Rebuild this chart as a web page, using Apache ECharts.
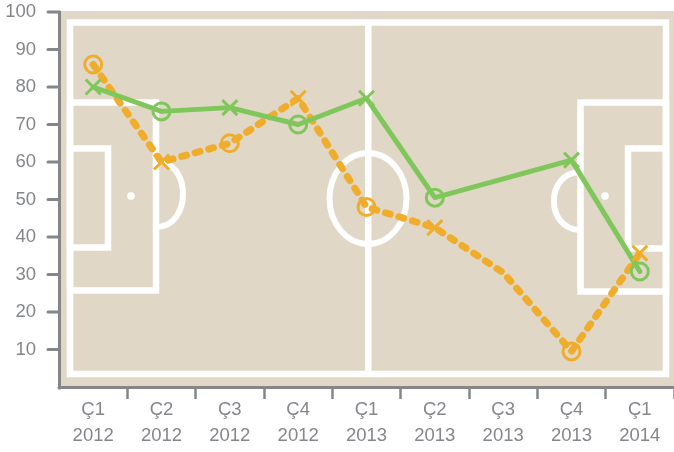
<!DOCTYPE html>
<html><head><meta charset="utf-8">
<style>html,body{margin:0;padding:0;background:#fff}#c{width:674px;height:452px}</style>
<script src="https://cdn.jsdelivr.net/npm/echarts@6/dist/echarts.min.js"></script>
</head><body><div id="c"></div>
<script>
const categories = ['Ç1\n2012','Ç2\n2012','Ç3\n2012','Ç4\n2012','Ç1\n2013','Ç2\n2013','Ç3\n2013','Ç4\n2013','Ç1\n2014'];
const orangeValues = [86, 60, 65, 77, 48, 42.5, 30.5, 9.5, 35.7];
const greenValues = [80, 73.5, 74.5, 70, 77, 50.5, 55.5, 60.5, 30.8];
const orangeMarkers = ['o','x','o','x','o','x','-','o','x'];
const greenMarkers = ['x','o','x','o','x','o','-','x','o'];
const yTicks = [10,20,30,40,50,60,70,80,90,100];

const GREY = '#84868a', GREEN = '#7fc75a', ORANGE = '#efad2b', PITCH = '#e0d7c6', W = '#ffffff';
const crossPath = 'path://M0 0L10 10M10 0L0 10';
function points(values, markers, color) {
  return values.map((v, i) => {
    const m = markers[i];
    if (m === '-') return {value: v, symbol: 'none'};
    return {
      value: v,
      symbol: m === 'o' ? 'circle' : crossPath,
      symbolSize: m === 'o' ? 17 : 15,
      itemStyle: {color: m === 'o' ? 'rgba(0,0,0,0)' : color, borderColor: color, borderWidth: 3, opacity: 1}
    };
  });
}
const rect = (x, y, w, h, fill, z) => ({type: 'rect', silent: true, z: z === undefined ? -10 : z, shape: {x, y, width: w, height: h}, style: {fill}});
const box = (x, y, w, h) => ({type: 'rect', silent: true, z: -9, shape: {x, y, width: w, height: h}, style: {fill: 'none', stroke: W, lineWidth: 6.5}});
const bez = (x1, y1, x2, y2, cx) => ({type: 'bezierCurve', silent: true, z: -9,
  shape: {x1, y1, x2, y2, cpx1: cx, cpy1: y1, cpx2: cx, cpy2: y2}, style: {fill: 'none', stroke: W, lineWidth: 6}});
const dot = (cx, cy) => ({type: 'circle', silent: true, z: -9, shape: {cx, cy, r: 3.8}, style: {fill: W}});
const pitch = [
    rect(60, 11, 614, 375, PITCH),
    box(70, 22.5, 596, 351.5),
    box(70, 102.5, 86, 188),
    box(70, 148.5, 38, 99),
    box(580.5, 102.5, 85.5, 189),
    box(628, 148.5, 38, 100),
    rect(365, 22, 6.5, 352, W, -9),
    {type: 'ellipse', silent: true, z: -9, shape: {cx: 368, cy: 198.5, rx: 38.5, ry: 45.5}, style: {fill: 'none', stroke: W, lineWidth: 6}},
    bez(156, 161, 156, 227, 192),
    bez(580.5, 172, 580.5, 230, 545),
    dot(131, 196),
    dot(605, 196),
    rect(55, 389.5, 7, 14, '#fff', 100)
];

const chart = echarts.init(document.getElementById('c'), null, {renderer: 'canvas'});
chart.setOption({
  animation: false,
  backgroundColor: '#fff',
  textStyle: {fontFamily: '"Liberation Sans", Arial, sans-serif'},
  graphic: pitch,
  grid: {left: 59, top: 12, width: 618, height: 375},
  xAxis: {
    type: 'category', data: categories, boundaryGap: true,
    axisLine: {onZero: false, lineStyle: {color: GREY, width: 3}},
    axisTick: {show: true, alignWithLabel: false, length: 12, lineStyle: {color: GREY, width: 2.5}},
    axisLabel: {show: true, interval: 0, color: GREY, fontSize: 18.5, lineHeight: 26, margin: 10},
    splitLine: {show: false}
  },
  yAxis: {
    type: 'value', min: 0, max: 100, interval: 10,
    axisLine: {show: true, onZero: false, lineStyle: {color: GREY, width: 3}},
    axisTick: {show: false},
    axisLabel: {color: GREY, fontSize: 18.5, margin: 23, formatter: v => v === 0 ? '' : String(v)},
    splitLine: {show: false}
  },
  series: [
    {type: 'line', name: 'Orange', data: points(orangeValues, orangeMarkers, ORANGE), showSymbol: true, clip: false,
      lineStyle: {color: ORANGE, width: 7, type: [5, 9], cap: 'round', join: 'round'}, itemStyle: {color: ORANGE}},
    {type: 'line', name: 'Green', data: points(greenValues, greenMarkers, GREEN), showSymbol: true, clip: false,
      lineStyle: {color: GREEN, width: 5, cap: 'round', join: 'round'}, itemStyle: {color: GREEN}}
  ]
});
const tickMarks = yTicks.map(v => {
  const y = chart.convertToPixel({yAxisIndex: 0}, v);
  return {type: 'line', silent: true, z: 50, shape: {x1: 48, y1: y, x2: 59, y2: y}, style: {stroke: GREY, lineWidth: 3, lineCap: 'round'}};
});
chart.setOption({graphic: pitch.concat(tickMarks)});
</script></body></html>
